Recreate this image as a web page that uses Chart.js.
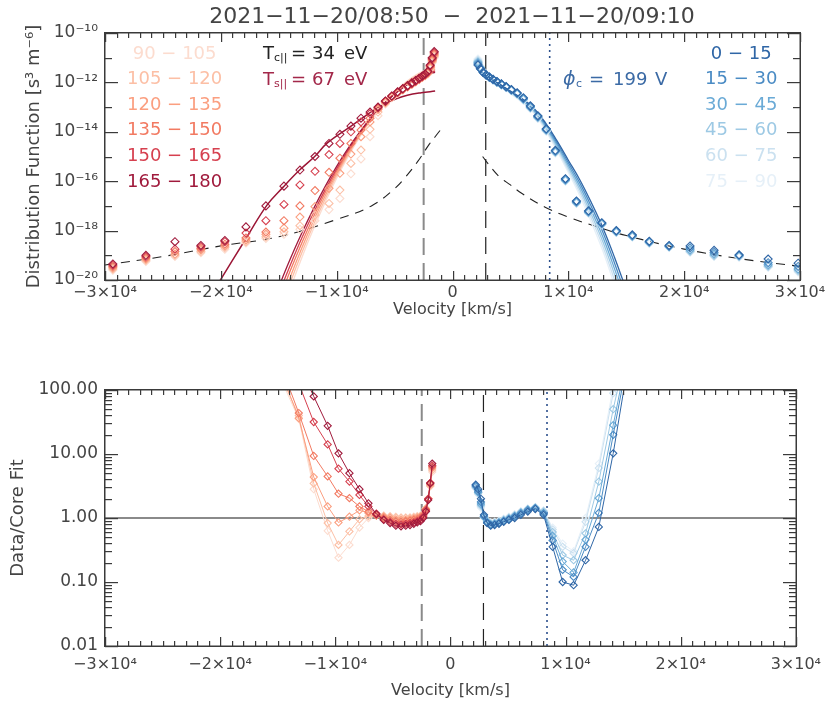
<!DOCTYPE html>
<html lang="en">
<head>
<meta charset="UTF-8">
<title>Pitch angle resolved distribution</title>
<script src="https://cdn.jsdelivr.net/npm/chart.js"></script>
<style>
  body { margin: 0; background: #fff; }
  #wrap { position: relative; width: 830px; height: 713px; }
  canvas { position: absolute; left: 0; }
</style>
</head>
<body>
<div id="wrap">
  <canvas id="dist" width="830" height="356" style="top:0"></canvas>
  <canvas id="ratio" width="830" height="357" style="top:356px"></canvas>
</div>
<script>
const FONT = 'DejaVu Sans';
const INK = '#444';

const title = '2021\u221211\u221220/08:50  \u2212  2021\u221211\u221220/09:10';

// pitch angle bins (legend order, top to bottom)
const redLabels = [' 90 \u2212 105', '105 \u2212 120', '120 \u2212 135', '135 \u2212 150', '150 \u2212 165', '165 \u2212 180'];
const redColors = ['#fcdccf', '#fcbfa5', '#fb9f80', '#f27a62', '#d6404f', '#a01a3c'];
const blueLabels = [' 0 \u2212 15', '15 \u2212 30', '30 \u2212 45', '45 \u2212 60', '60 \u2212 75', '75 \u2212 90'];
const blueColors = ['#2f66a6', '#4a8bc4', '#6aaad6', '#9dc9e4', '#cbe1f0', '#e6f0f8'];

// special velocities [km/s]
const vGray = -2490, vBlack = 2870, vDot = 8390;

// velocity bins of the measured points
const redV = [-29320, -26470, -23960, -21720, -19650, -17830, -16110, -14550, -13170, -11870, -10660, -9720, -8770, -7900, -7120,
  -6430, -5790, -5240, -4740, -4290, -3880, -3510, -3180, -2880, -2600, -2360, -2130, -1930, -1750, -1580];
const blueV = [2200, 2410, 2650, 2910, 3190, 3500, 3840, 4220, 4630, 5080, 5580, 6120, 6720, 7370, 8090, 8880, 9750, 10700,
  11740, 12890, 14140, 15520, 16990, 18700, 20510, 22580, 24740, 27250, 29840];

// log10 distribution function, red: 90-105 ... 165-180
const redF = [
  [-19.6, -19.25, -19.05, -18.9, -18.75, -18.5, -18.32, -18.15, -17.95, -17.6, -17.15, -16.7, -15.7, -15.1, -14.2, -13.35, -12.87, -12.62, -12.45, -12.31, -12.19, -12.08, -11.98, -11.89, -11.8, -11.73, -11.66, -11.46, -11.2, -11.0],
  [-19.55, -19.2, -19.0, -18.85, -18.68, -18.45, -18.25, -18.05, -17.8, -17.37, -16.9, -16.36, -15.28, -14.74, -13.9, -13.2, -12.83, -12.6, -12.43, -12.3, -12.18, -12.07, -11.97, -11.88, -11.79, -11.72, -11.64, -11.43, -11.16, -10.95],
  [-19.5, -19.15, -18.95, -18.78, -18.62, -18.38, -18.15, -17.9, -17.45, -17.03, -16.29, -15.68, -14.9, -14.2, -13.6, -13.1, -12.8, -12.58, -12.42, -12.29, -12.17, -12.06, -11.96, -11.87, -11.78, -11.71, -11.62, -11.4, -11.12, -10.9],
  [-19.45, -19.1, -18.85, -18.72, -18.55, -18.3, -18.06, -17.6, -17.0, -16.38, -15.64, -15.07, -14.47, -13.93, -13.45, -13.05, -12.78, -12.57, -12.41, -12.28, -12.16, -12.05, -11.95, -11.86, -11.77, -11.7, -11.6, -11.36, -11.08, -10.85],
  [-19.4, -19.05, -18.75, -18.65, -18.45, -18.1, -17.6, -16.94, -16.15, -15.6, -14.92, -14.47, -14.0, -13.6, -13.27, -13.02, -12.76, -12.56, -12.4, -12.27, -12.15, -12.04, -11.94, -11.85, -11.76, -11.68, -11.58, -11.33, -11.04, -10.8],
  [-19.35, -19.0, -18.45, -18.6, -18.4, -17.85, -17.0, -16.2, -15.55, -15.0, -14.47, -14.1, -13.77, -13.45, -13.2, -13.0, -12.75, -12.55, -12.38, -12.25, -12.13, -12.02, -11.92, -11.83, -11.74, -11.66, -11.55, -11.3, -11.0, -10.75]
];

// log10 distribution function, blue: 0-15 ... 75-90
const blueF = [
  [-11.3, -11.45, -11.6, -11.7, -11.78, -11.87, -11.96, -12.06, -12.17, -12.29, -12.42, -12.62, -12.95, -13.35, -13.88, -14.75, -15.9, -16.8, -17.2, -17.68, -18.0, -18.17, -18.43, -18.6, -18.62, -18.8, -18.98, -19.15, -19.32],
  [-11.25, -11.45, -11.6, -11.71, -11.79, -11.88, -11.97, -12.07, -12.18, -12.3, -12.44, -12.65, -12.98, -13.38, -13.9, -14.78, -15.92, -16.82, -17.22, -17.7, -18.02, -18.2, -18.45, -18.62, -18.7, -18.88, -19.0, -19.3, -19.45],
  [-11.2, -11.42, -11.58, -11.7, -11.79, -11.88, -11.98, -12.08, -12.19, -12.31, -12.45, -12.67, -13.0, -13.4, -13.92, -14.8, -15.95, -16.85, -17.25, -17.72, -18.04, -18.22, -18.47, -18.64, -18.78, -18.95, -19.02, -19.38, -19.55],
  [-11.15, -11.4, -11.57, -11.69, -11.79, -11.89, -11.99, -12.09, -12.2, -12.32, -12.46, -12.68, -13.02, -13.42, -13.94, -14.82, -15.97, -16.87, -17.27, -17.74, -18.06, -18.24, -18.48, -18.65, -18.83, -19.0, -19.04, -19.43, -19.6],
  [-11.1, -11.38, -11.56, -11.69, -11.8, -11.9, -12.0, -12.1, -12.21, -12.33, -12.47, -12.7, -13.04, -13.44, -13.96, -14.84, -15.98, -16.88, -17.28, -17.75, -18.07, -18.25, -18.5, -18.66, -18.86, -19.03, -19.06, -19.46, -19.64],
  [-11.05, -11.35, -11.55, -11.68, -11.8, -11.9, -12.0, -12.1, -12.22, -12.34, -12.48, -12.72, -13.06, -13.46, -13.98, -14.86, -16.0, -16.9, -17.3, -17.76, -18.08, -18.26, -18.52, -18.67, -18.88, -19.05, -19.08, -19.48, -19.68]
];

// core fits, log10 f
const redFitV = [-15000, -14000, -13000, -12000, -11000, -10000, -9000, -8000, -7000, -6000, -5000, -4000, -3000, -2000, -1500];
const redFit = [
  [-21.69, -20.34, -19.09, -17.93, -16.86, -15.88, -15.0, -14.21, -13.51, -12.9, -12.39, -11.97, -11.65, -11.42, -11.33],
  [-21.41, -20.1, -18.89, -17.76, -16.73, -15.78, -14.93, -14.16, -13.49, -12.9, -12.41, -12.0, -11.69, -11.46, -11.38],
  [-21.13, -19.87, -18.69, -17.6, -16.6, -15.69, -14.86, -14.12, -13.47, -12.91, -12.43, -12.04, -11.73, -11.51, -11.44],
  [-20.84, -19.62, -18.49, -17.44, -16.47, -15.59, -14.79, -14.08, -13.45, -12.9, -12.44, -12.06, -11.77, -11.56, -11.48],
  [-20.56, -19.39, -18.29, -17.28, -16.35, -15.5, -14.73, -14.04, -13.43, -12.91, -12.46, -12.1, -11.81, -11.61, -11.54],
  [-20.28, -19.14, -18.09, -17.12, -16.22, -15.4, -14.66, -14.0, -13.41, -12.9, -12.48, -12.12, -11.85, -11.66, -11.59]
];
const blueFitV = [2300, 3000, 4000, 5000, 6000, 7000, 8000, 9000, 10000, 11000, 12000, 13000, 14000, 15000];
const blueFit = [
  [-11.55, -11.76, -12.05, -12.35, -12.65, -13.03, -13.62, -14.35, -15.15, -15.95, -16.88, -17.9, -19.1, -20.4],
  [-11.55, -11.76, -12.06, -12.37, -12.68, -13.07, -13.68, -14.43, -15.25, -16.08, -17.04, -18.09, -19.33, -20.67],
  [-11.55, -11.76, -12.07, -12.39, -12.71, -13.11, -13.74, -14.51, -15.35, -16.21, -17.2, -18.28, -19.56, -20.94],
  [-11.55, -11.76, -12.08, -12.41, -12.74, -13.15, -13.8, -14.59, -15.45, -16.34, -17.36, -18.47, -19.79, -21.21],
  [-11.55, -11.76, -12.09, -12.43, -12.77, -13.19, -13.86, -14.67, -15.55, -16.47, -17.52, -18.66, -20.02, -21.48],
  [-11.55, -11.76, -12.1, -12.45, -12.8, -13.23, -13.92, -14.75, -15.65, -16.6, -17.68, -18.85, -20.25, -21.75]
];

// strahl fit (T_s||)
const strahlV = [-20300, -17800, -16000, -14600, -13200, -11900, -10800, -8850, -7200, -6000, -4800, -3900, -2700, -1500];
const strahlF = [-20.2, -18.3, -16.96, -16.23, -15.55, -15.0, -14.45, -13.8, -13.25, -12.9, -12.65, -12.52, -12.42, -12.35];

// halo model (dashed)
const haloLV = [-30000, -25000, -20000, -15000, -10000, -7000, -5000, -4000, -3000, -2000, -1500, -1000];
const haloLF = [-19.39, -19.05, -18.62, -18.25, -17.55, -17.0, -16.3, -15.8, -15.2, -14.5, -14.2, -13.9];
const haloRV = [2600, 3000, 4000, 5000, 6000, 8000, 10000, 12500, 15000, 20000, 25000, 30000];
const haloRF = [-15.0, -15.25, -15.8, -16.15, -16.5, -17.05, -17.45, -17.85, -18.2, -18.75, -19.15, -19.45];

// log10 data / core fit
const redR = [
  [null, null, null, null, null, null, 2.9, 2.1, 1.55, 0.45, -0.2, -0.62, -0.42, -0.15, 0.0, 0.04, 0.04, 0.03, 0.02, 0.01, 0.01, 0.01, 0.02, 0.03, 0.04, 0.07, 0.15, 0.3, 0.5, 0.72],
  [null, null, null, null, null, null, 2.9, 2.15, 1.6, 0.54, -0.08, -0.42, -0.21, -0.02, 0.03, 0.04, 0.03, 0.02, 0.01, 0.0, 0.0, 0.0, 0.01, 0.02, 0.03, 0.06, 0.15, 0.3, 0.5, 0.75],
  [null, null, null, null, null, null, 2.9, 2.2, 1.56, 0.64, 0.18, -0.07, 0.02, 0.12, 0.08, 0.04, 0.02, 0.0, -0.02, -0.03, -0.03, -0.02, -0.01, 0.0, 0.02, 0.05, 0.14, 0.3, 0.52, 0.78],
  [null, null, null, null, null, null, 3.0, 2.3, 1.64, 0.97, 0.65, 0.38, 0.31, 0.18, 0.1, 0.04, 0.0, -0.03, -0.05, -0.06, -0.05, -0.04, -0.03, -0.02, 0.0, 0.04, 0.13, 0.3, 0.55, 0.8],
  [null, null, null, null, null, null, 3.0, 2.6, 2.1, 1.5, 1.15, 0.77, 0.57, 0.36, 0.18, 0.07, -0.02, -0.06, -0.09, -0.1, -0.09, -0.08, -0.07, -0.05, -0.03, 0.02, 0.12, 0.3, 0.55, 0.82],
  [null, null, null, null, null, null, 3.2, 2.8, 2.4, 1.9, 1.44, 1.01, 0.7, 0.45, 0.23, 0.06, -0.03, -0.08, -0.12, -0.13, -0.12, -0.11, -0.09, -0.07, -0.05, 0.0, 0.1, 0.28, 0.54, 0.85]
];
const blueR = [
  [0.52, 0.45, 0.3, 0.05, -0.08, -0.12, -0.11, -0.09, -0.06, -0.03, 0.0, 0.05, 0.1, 0.14, 0.05, -0.45, -1.0, -1.05, -0.66, -0.14, 1.01, 2.5],
  [0.5, 0.42, 0.25, 0.03, -0.07, -0.11, -0.1, -0.08, -0.05, -0.02, 0.02, 0.07, 0.12, 0.15, 0.07, -0.35, -0.81, -0.92, -0.45, 0.08, 1.3, 2.6],
  [0.5, 0.4, 0.22, 0.02, -0.06, -0.1, -0.09, -0.07, -0.04, -0.01, 0.03, 0.08, 0.13, 0.16, 0.08, -0.28, -0.68, -0.85, -0.34, 0.31, 1.45, 2.7],
  [0.48, 0.4, 0.2, 0.02, -0.05, -0.09, -0.08, -0.06, -0.03, 0.0, 0.04, 0.09, 0.14, 0.16, 0.1, -0.22, -0.58, -0.66, -0.24, 0.57, 1.7, 2.8],
  [0.47, 0.38, 0.18, 0.01, -0.04, -0.08, -0.07, -0.05, -0.02, 0.01, 0.05, 0.1, 0.14, 0.17, 0.11, -0.18, -0.45, -0.55, -0.06, 0.78, 1.95, 2.9],
  [0.46, 0.37, 0.16, 0.0, -0.04, -0.07, -0.06, -0.04, -0.01, 0.02, 0.06, 0.1, 0.15, 0.17, 0.12, -0.15, -0.4, -0.52, 0.0, 0.85, 2.05, 3.0]
];

// axis ticks
const velTicks = [];
for (let v = -30000; v <= 30000; v += 1000) velTicks.push(v);
const distExp = [-20, -19, -18, -17, -16, -15, -14, -13, -12, -11, -10];
const distYTicks = distExp.map(n => ({ value: 10 ** n, big: n % 2 === 0 }));
const ratioTicks = [];
[-2, -1, 0, 1].forEach(n => { for (let k = 1; k < 10; k++) ratioTicks.push({ value: k * 10 ** n, big: k === 1 }); });
ratioTicks.push({ value: 100, big: true });

// inward tick lengths (px)
const TICK = { xMajor: 9, xMinor: 5, yMajor: 13, yMinor: 7 };

const SUP = { '-': '\u207B', '0': '\u2070', '1': '\u00B9', '2': '\u00B2', '3': '\u00B3', '4': '\u2074', '5': '\u2075', '6': '\u2076', '7': '\u2077', '8': '\u2078', '9': '\u2079' };
const sup = s => String(s).split('').map(c => SUP[c]).join('');
const velLabel = v => v === 0 ? '0' : (v < 0 ? '\u2212' : '') + Math.abs(v / 10000) + '\u00D710\u2074';

const pts = (xs, logs) => logs.map((e, i) => e === null || xs[i] === undefined ? null : { x: xs[i], y: 10 ** e }).filter(Boolean);

const curve = (xs, logs, color, width, dash) => ({
  data: pts(xs, logs), borderColor: color, borderWidth: width, borderDash: dash || [],
  pointRadius: 0, tension: 0.4, fill: false
});
const marks = (xs, logs, color) => ({
  data: pts(xs, logs), showLine: false, borderColor: color, backgroundColor: 'rgba(255,255,255,0)',
  pointStyle: 'rectRot', pointRadius: 4, pointBorderWidth: 1.1, pointBorderColor: color
});
const joined = (xs, logs, color) => ({
  data: pts(xs, logs), borderColor: color, borderWidth: 1, tension: 0,
  pointStyle: 'rectRot', pointRadius: 3.6, pointBorderWidth: 1.1, pointBorderColor: color,
  pointBackgroundColor: 'rgba(255,255,255,0)'
});
const vline = (x, lo, hi, color, width, dash) => ({
  data: [{ x: x, y: lo }, { x: x, y: hi }], borderColor: color, borderWidth: width, borderDash: dash, pointRadius: 0
});

// frame with inward ticks on all four sides, tick positions from the chart scales
const makeFrame = yTicks => ({
  id: 'frameTicks',
  afterDraw(chart) {
    const ctx = chart.ctx;
    const a = chart.chartArea;
    const x = chart.scales.x, y = chart.scales.y;
    ctx.save();
    ctx.fillStyle = '#3a3a3a';
    const L = Math.round(a.left), R = Math.round(a.right), T = Math.round(a.top), B = Math.round(a.bottom);
    ctx.fillRect(L - 1, T - 1, R - L + 2, 1.5);
    ctx.fillRect(L - 1, B - 0.5, R - L + 2, 1.5);
    ctx.fillRect(L - 1, T - 1, 1.5, B - T + 2);
    ctx.fillRect(R - 0.5, T - 1, 1.5, B - T + 2);
    velTicks.forEach(v => {
      const px = Math.round(x.getPixelForValue(v));
      const len = v % 10000 === 0 ? TICK.xMajor : TICK.xMinor;
      ctx.fillRect(px, B - len, 1.2, len);
      ctx.fillRect(px, T, 1.2, len);
    });
    yTicks.forEach(t => {
      const py = Math.round(y.getPixelForValue(t.value));
      const len = t.big ? TICK.yMajor : TICK.yMinor;
      ctx.fillRect(L, py, len, 1.2);
      ctx.fillRect(R - len, py, len, 1.2);
    });
    ctx.restore();
  }
});

const drawParts = (ctx, parts, color) => {
  ctx.fillStyle = color;
  parts.forEach(([t, x, size, dy]) => {
    ctx.font = `${size}px ${FONT}`;
    ctx.fillText(t, x, 54 + dy);
  });
};

const distText = {
  id: 'distText',
  afterDraw(chart) {
    const ctx = chart.ctx;
    ctx.save();
    ctx.textBaseline = 'middle';
    ctx.textAlign = 'center';
    ctx.fillStyle = INK;
    ctx.font = `22px ${FONT}`;
    ctx.fillText(title, 452, 17);
    ctx.textAlign = 'left';
    ctx.font = `18px ${FONT}`;
    redLabels.forEach((t, i) => { ctx.fillStyle = redColors[i]; ctx.fillText(t, 127, 54 + 25.6 * i); });
    blueLabels.forEach((t, i) => { ctx.fillStyle = blueColors[i]; ctx.fillText(t, 705, 54 + 25.6 * i); });
    drawParts(ctx, [['T', 263, 18, 0], ['c||', 274, 11, 4], ['=', 291, 18, 0], ['34', 312, 18, 0], ['eV', 344, 18, 0]], '#222');
    drawParts(ctx, [['T', 263, 18, 26], ['s||', 274, 11, 30], ['=', 291, 18, 26], ['67', 312, 18, 26], ['eV', 344, 18, 26]], '#a3284a');
    ctx.font = `italic 19px ${FONT}`;
    ctx.fillStyle = '#3b6aa5';
    ctx.fillText('\u03D5', 563, 80);
    drawParts(ctx, [['c', 576, 11, 30], ['=', 589, 18, 26], ['199', 613, 18, 26], ['V', 655, 18, 26]], '#3b6aa5');
    ctx.restore();
  }
};

const xScale = (labelPad, titlePad, height) => ({
  type: 'linear', min: -30000, max: 30000,
  afterBuildTicks: s => { s.ticks = velTicks.map(v => ({ value: v })); },
  afterFit: s => { s.height = height; },
  ticks: {
    autoSkip: false, maxRotation: 0, padding: labelPad, color: INK, font: { family: FONT, size: 16 },
    callback: v => v % 10000 === 0 ? velLabel(v) : ''
  },
  grid: { display: false, drawTicks: false },
  border: { display: false },
  title: { display: true, text: 'Velocity [km/s]', color: INK, font: { family: FONT, size: 16 }, padding: { top: 0, bottom: titlePad } }
});

const base = {
  responsive: false, animation: false, devicePixelRatio: 1,
  plugins: { legend: { display: false }, tooltip: { enabled: false } }
};

// top panel
const distSets = [];
for (let i = 5; i >= 0; i--) distSets.push(marks(redV, redF[i], redColors[i]));
for (let i = 0; i < 6; i++) distSets.push(marks(blueV, blueF[i], blueColors[i]));
distSets.push(curve(strahlV, strahlF, '#9b1535', 1.5));
for (let i = 5; i >= 0; i--) distSets.push(curve(redFitV, redFit[i], redColors[i], 1.3));
for (let i = 0; i < 6; i++) distSets.push(curve(blueFitV, blueFit[i], blueColors[i], 1.3));
distSets.push(curve(haloLV, haloLF, '#222', 1.1, [9, 7]));
distSets.push(curve(haloRV, haloRF, '#222', 1.1, [9, 7]));
distSets.push(vline(vGray, 1e-20, 1e-10, '#8a8a8a', 2, [17, 8]));
distSets.push(vline(vBlack, 1e-20, 1e-10, '#222', 1.2, [17, 9]));
distSets.push(vline(vDot, 1e-20, 1e-10, '#2b4f8c', 1.6, [2, 4]));

new Chart(document.getElementById('dist'), {
  type: 'line',
  data: { datasets: distSets },
  options: Object.assign({}, base, {
    layout: { padding: { left: 0, right: 30, top: 33, bottom: 0 } },
    scales: {
      x: xScale(3, 37, 76),
      y: {
        type: 'logarithmic', min: 1e-20, max: 1e-10,
        afterBuildTicks: s => { s.ticks = distYTicks.map(t => ({ value: t.value })); },
        afterFit: s => { s.width = 105; },
        ticks: {
          autoSkip: false, padding: 7, color: INK, font: { family: FONT, size: 17 },
          callback: v => {
            const n = Math.round(Math.log10(v));
            return n % 2 === 0 ? '10' + sup(n) : '';
          }
        },
        grid: { display: false, drawTicks: false },
        border: { display: false },
        title: { display: true, text: 'Distribution Function [s\u00B3 m\u207B\u2076]', color: INK, font: { family: FONT, size: 18 }, padding: { top: 24, bottom: 0 } }
      }
    }
  }),
  plugins: [makeFrame(distYTicks), distText]
});

// bottom panel
const ratioSets = [];
for (let i = 5; i >= 0; i--) ratioSets.push(joined(redV, redR[i], redColors[i]));
for (let i = 0; i < 6; i++) ratioSets.push(joined(blueV, blueR[i], blueColors[i]));
ratioSets.push({ data: [{ x: -30000, y: 1 }, { x: 30000, y: 1 }], borderColor: '#8a8a8a', borderWidth: 2, pointRadius: 0 });
ratioSets.push(vline(vGray, 0.01, 100, '#8a8a8a', 2, [17, 8]));
ratioSets.push(vline(vBlack, 0.01, 100, '#222', 1.2, [17, 9]));
ratioSets.push(vline(vDot, 0.01, 100, '#2b4f8c', 1.6, [2, 4]));

new Chart(document.getElementById('ratio'), {
  type: 'line',
  data: { datasets: ratioSets },
  options: Object.assign({}, base, {
    layout: { padding: { left: 0, right: 30, top: 34, bottom: 0 } },
    scales: {
      x: xScale(9, 13, 67),
      y: {
        type: 'logarithmic', min: 0.01, max: 100,
        afterBuildTicks: s => { s.ticks = ratioTicks.map(t => ({ value: t.value })); },
        afterFit: s => { s.width = 105; },
        ticks: {
          autoSkip: false, padding: 7, color: INK, font: { family: FONT, size: 17 },
          callback: v => [0.01, 0.1, 1, 10, 100].some(d => Math.abs(v - d) < d * 1e-6) ? v.toFixed(2) : ''
        },
        grid: { display: false, drawTicks: false },
        border: { display: false },
        title: { display: true, text: 'Data/Core Fit', color: INK, font: { family: FONT, size: 18 }, padding: { top: 8, bottom: 0 } }
      }
    }
  }),
  plugins: [makeFrame(ratioTicks)]
});
</script>
</body>
</html>
